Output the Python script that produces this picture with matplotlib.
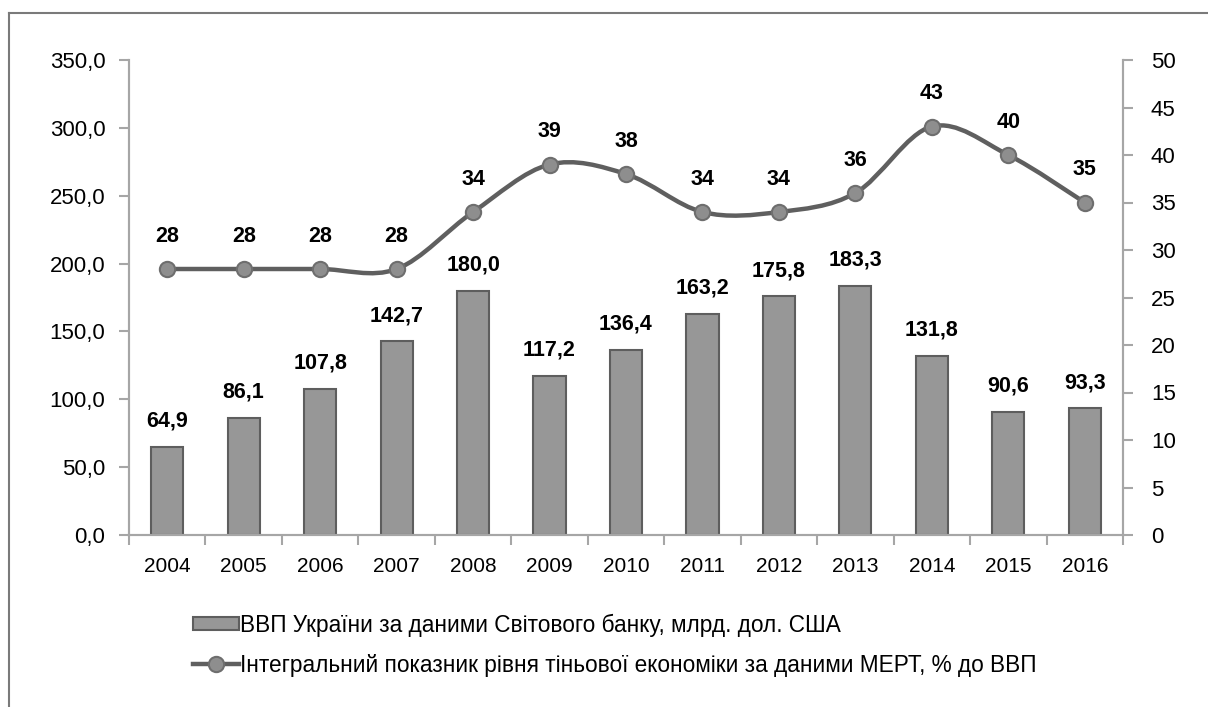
import numpy as np
import matplotlib.pyplot as plt
from matplotlib.path import Path
from matplotlib.patches import PathPatch, Patch
from matplotlib.lines import Line2D

plt.rcParams['font.family'] = ['Liberation Sans Narrow', 'Liberation Sans', 'DejaVu Sans']

# Дані
years = ['2004', '2005', '2006', '2007', '2008', '2009', '2010',
         '2011', '2012', '2013', '2014', '2015', '2016']
gdp = [64.9, 86.1, 107.8, 142.7, 180.0, 117.2, 136.4,
       163.2, 175.8, 183.3, 131.8, 90.6, 93.3]
shadow = [28, 28, 28, 28, 34, 39, 38, 34, 34, 36, 43, 40, 35]
gdp_label = 'ВВП України за даними Світового банку, млрд. дол. США'
shadow_label = 'Інтегральний показник рівня тіньової економіки за даними МЕРТ, % до ВВП'

bar_fc = '#979797'
bar_ec = '#5e5e5e'
line_c = '#5f5f5f'
mk_fc = '#8e8e8e'
mk_ec = '#6e6e6e'
spine_c = '#a6a6a6'

fig = plt.figure(figsize=(12.08, 7.07), dpi=100)
ax = fig.add_axes([129 / 1208, 1 - 535 / 707, 994 / 1208, 475 / 707])
ax2 = ax.twinx()

x = np.arange(len(years))
ax.bar(x, gdp, width=0.42, color=bar_fc, edgecolor=bar_ec, linewidth=1.5, zorder=2)
for xi, v in zip(x, gdp):
    ax.annotate(f'{v:.1f}'.replace('.', ','), (xi, v), xytext=(0, 11),
                textcoords='offset points', ha='center', va='bottom',
                fontsize=15.5, fontweight='bold')

ax.set_xlim(-0.5, len(years) - 0.5)
ax.set_ylim(0, 350)
ax.set_yticks(np.arange(0, 351, 50))
ax.set_yticklabels([f'{v:.1f}'.replace('.', ',') for v in np.arange(0, 351, 50)])
ax.set_xticks(x)
ax.set_xticklabels(years)
ax.set_xticks(np.arange(-0.5, len(years), 1), minor=True)
ax.tick_params(axis='x', which='major', length=0, pad=16, labelsize=15)
ax.tick_params(axis='x', which='minor', length=7, color=spine_c, width=1.5)
ax.tick_params(axis='y', length=7, color=spine_c, width=1.5, labelsize=16, pad=10)

ax2.set_ylim(0, 50)
ax2.set_yticks(np.arange(0, 51, 5))
ax2.tick_params(axis='y', length=7, color=spine_c, width=1.5, labelsize=16, pad=13)

for a in (ax, ax2):
    a.spines['top'].set_visible(False)
    for s in ('left', 'right', 'bottom'):
        a.spines[s].set_color(spine_c)
        a.spines[s].set_linewidth(1.5)

# згладжена лінія (Catmull-Rom через криві Безьє)
pts = np.column_stack([x, shadow]).astype(float)
verts = [tuple(pts[0])]
codes = [Path.MOVETO]
n = len(pts)
for i in range(n - 1):
    p0 = pts[i - 1] if i > 0 else pts[i]
    p1 = pts[i]
    p2 = pts[i + 1]
    p3 = pts[i + 2] if i + 2 < n else pts[i + 1]
    c1 = p1 + (p2 - p0) / 6
    c2 = p2 - (p3 - p1) / 6
    verts += [tuple(c1), tuple(c2), tuple(p2)]
    codes += [Path.CURVE4] * 3
ax2.add_patch(PathPatch(Path(verts, codes), facecolor='none', edgecolor=line_c,
                        linewidth=3.2, zorder=3, capstyle='round'))
ax2.plot(x, shadow, linestyle='none', marker='o', markersize=11,
         markerfacecolor=mk_fc, markeredgecolor=mk_ec, markeredgewidth=1.5, zorder=4)
for xi, v in zip(x, shadow):
    ax2.annotate(str(v), (xi, v), xytext=(0, 16), textcoords='offset points',
                 ha='center', va='bottom', fontsize=15.5, fontweight='bold')

handles = [
    Patch(facecolor=bar_fc, edgecolor=bar_ec, linewidth=1.5),
    Line2D([], [], color=line_c, linewidth=3.2, marker='o', markersize=11,
           markerfacecolor=mk_fc, markeredgecolor=mk_ec, markeredgewidth=1.5),
]
fig.legend(handles, [gdp_label, shadow_label], loc='upper left',
           bbox_to_anchor=(173 / 1208, 1 - 593 / 707), frameon=False,
           fontsize=16.3, handlelength=2.0, handleheight=0.55, handletextpad=0.08,
           labelspacing=0.75)

# рамка
fig.add_artist(Line2D([9 / 1208, 9 / 1208], [0, 1 - 13 / 707], color='#7a7a7a', linewidth=1.5))
fig.add_artist(Line2D([9 / 1208, 1], [1 - 13 / 707, 1 - 13 / 707], color='#7a7a7a', linewidth=1.5))

fig.savefig('out.png', dpi=100)
